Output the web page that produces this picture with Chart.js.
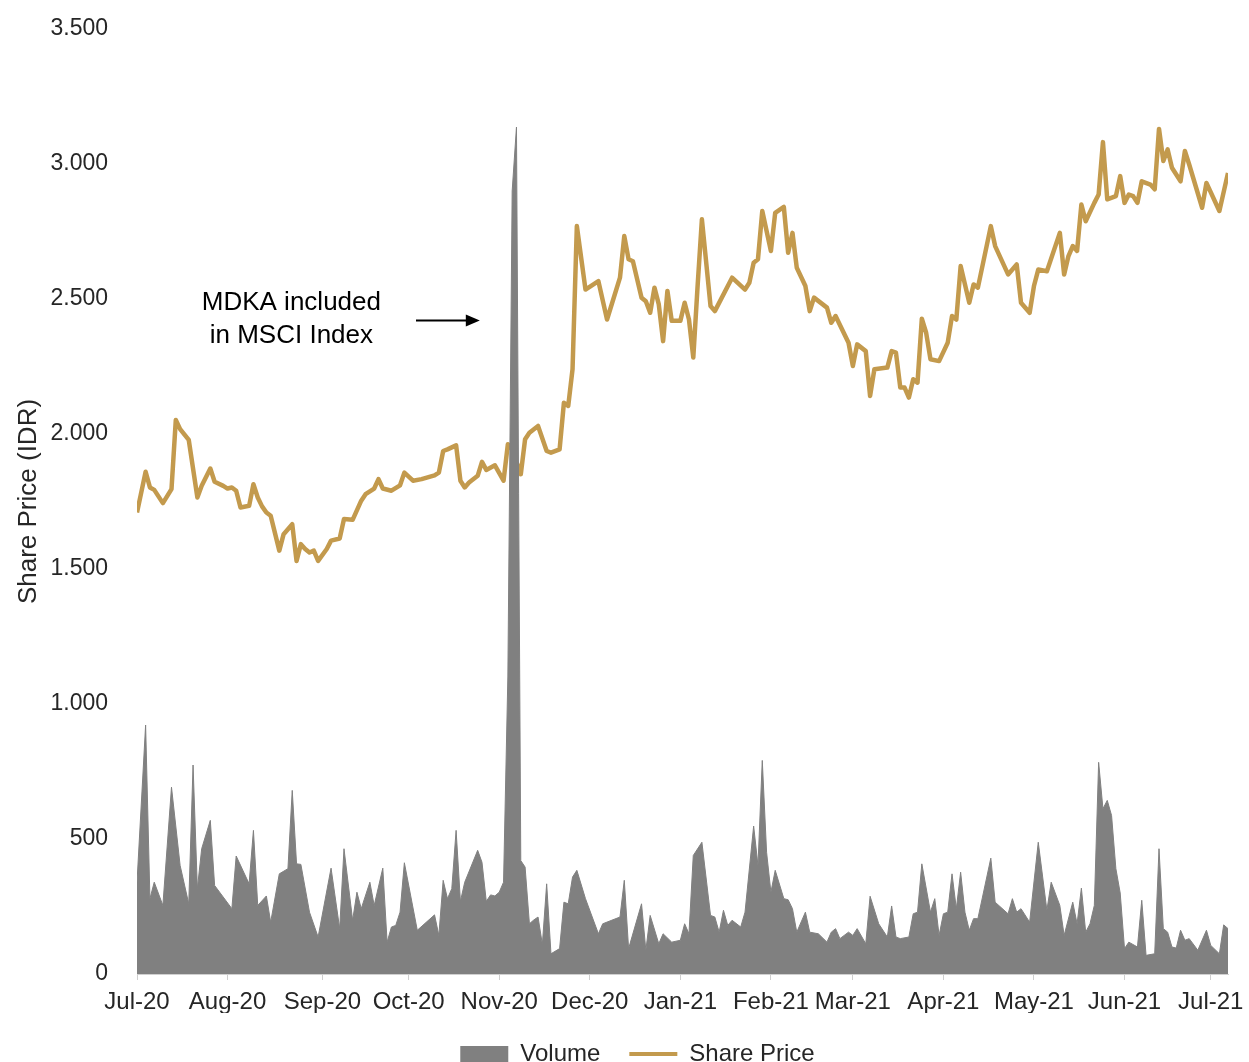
<!DOCTYPE html>
<html>
<head>
<meta charset="utf-8">
<script src="https://cdn.jsdelivr.net/npm/chart.js@4.4.1/dist/chart.umd.min.js"></script>
<style>
  html, body { margin: 0; padding: 0; background: #ffffff; overflow: hidden; }
  #wrap { position: relative; width: 1249px; height: 1076px; }
</style>
</head>
<body>
<div id="wrap"><canvas id="c"></canvas></div>
<script>
// ---- Tick labels (month starts, trading-day index) ----
const monthLabels = ['Jul-20','Aug-20','Sep-20','Oct-20','Nov-20','Dec-20','Jan-21','Feb-21','Mar-21','Apr-21','May-21','Jun-21','Jul-21'];
const monthStartDay = [0,21,43,63,84,105,126,147,166,187,208,229,249];
const lastDay = 253;

// ---- Share price (IDR), trading-day index -> price ----
const priceDay = [0,2,3,4,6,8,9,10,12,14,15,17,18,20,21,22,23,24,26,27,28,29,30,31,33,34,36,37,38,39,40,41,42,44,45,47,48,50,52,53,55,56,57,59,61,62,64,66,69,70,71,72,74,75,76,77,79,80,81,83,85,86,87,89,90,91,93,95,96,98,99,100,101,102,104,107,109,112,113,114,115,117,118,119,120,121,122,123,124,126,127,128,129,130,131,133,134,138,141,142,143,144,145,147,148,150,151,152,153,155,156,157,160,161,162,165,166,167,169,170,171,174,175,176,177,178,179,180,181,182,183,184,186,188,189,190,191,193,194,195,198,199,202,204,205,207,208,209,211,214,215,216,217,218,219,220,222,223,224,225,227,228,229,230,231,232,233,235,236,237,238,239,240,242,243,244,247,248,251,253];
const price = [1709,1860,1802,1793,1744,1796,2052,2018,1978,1765,1808,1872,1823,1808,1798,1802,1790,1728,1734,1814,1765,1732,1709,1697,1568,1629,1666,1530,1592,1574,1561,1568,1530,1574,1605,1613,1685,1682,1753,1777,1798,1833,1798,1790,1810,1857,1827,1833,1847,1857,1937,1943,1958,1827,1802,1820,1845,1897,1867,1884,1827,1962,1943,1851,1981,2005,2030,1937,1931,1943,2116,2104,2240,2770,2535,2566,2424,2579,2733,2647,2640,2505,2492,2449,2542,2480,2344,2530,2419,2419,2486,2424,2283,2548,2795,2474,2455,2579,2535,2560,2634,2647,2826,2678,2819,2841,2671,2745,2616,2548,2455,2505,2468,2412,2437,2338,2252,2332,2307,2141,2240,2246,2307,2301,2172,2172,2135,2203,2190,2427,2375,2277,2270,2338,2437,2424,2622,2486,2554,2542,2770,2696,2591,2628,2486,2449,2548,2609,2603,2745,2591,2659,2696,2678,2850,2788,2856,2887,3081,2869,2881,2955,2856,2887,2881,2856,2936,2924,2906,3130,3011,3054,2986,2936,3048,2998,2838,2930,2826,2967];

// ---- Volume, trading-day index -> volume ----
const volumeDay = [0,2,3,4,6,8,10,12,13,14,15,17,18,22,23,26,27,28,30,31,33,35,36,37,38,40,42,45,47,48,50,51,52,54,55,57,58,59,60,61,62,65,69,70,71,72,73,74,75,76,79,80,81,82,83,84,85,86,87,88,89,90,91,92,93,94,95,96,98,99,100,101,102,104,107,108,112,113,114,117,118,119,121,122,124,126,127,128,129,131,133,134,135,136,137,138,140,141,143,144,145,146,147,148,150,151,152,153,155,156,158,160,161,162,163,165,166,167,169,170,172,174,175,176,177,179,180,181,182,184,185,186,187,188,189,190,191,192,193,194,195,198,199,202,203,204,205,207,209,211,212,214,215,217,218,219,220,221,222,223,224,225,226,227,228,229,230,232,233,234,236,237,238,239,240,241,242,243,244,246,248,249,251,252,253];
const volume = [340,922,279,340,254,692,402,260,774,316,464,569,328,242,437,334,532,254,289,192,371,390,680,408,406,229,137,392,168,464,199,303,242,340,254,392,118,174,180,229,412,162,219,143,347,279,316,532,269,340,458,414,269,293,289,303,340,1100,2900,3137,420,396,186,200,211,110,334,75,94,266,260,359,384,279,149,186,211,347,94,260,88,217,112,149,118,125,186,149,439,488,217,211,155,236,180,199,174,229,548,402,791,451,303,384,279,275,242,155,229,155,149,118,155,168,131,155,143,168,112,288,186,137,252,137,131,137,223,229,408,229,279,143,223,229,371,242,377,229,162,205,205,429,266,223,279,229,242,192,488,236,340,254,143,266,186,318,155,186,254,784,612,643,587,390,300,94,118,100,273,69,75,464,168,155,100,96,162,125,131,88,162,106,75,182,168];

const GOLD = '#C39A4D';
const GREY = '#808080';
const TEXT = '#262626';
const FONT = "'Liberation Sans', Arial, Helvetica, sans-serif";

const toXY = (xs, ys) => xs.map((d, i) => ({ x: d, y: ys[i] }));

const fmt = v => String(v).replace(/\B(?=(\d{3})+(?!\d))/g, '.');

const annotationPlugin = {
  id: 'mdkaNote',
  afterDatasetsDraw(chart) {
    const { ctx, scales: { x, y } } = chart;
    ctx.save();
    ctx.fillStyle = '#000';
    ctx.font = '26px ' + FONT;
    ctx.textAlign = 'center';
    ctx.textBaseline = 'middle';
    const tx = x.getPixelForValue(35.8);
    ctx.fillText('MDKA included', tx, y.getPixelForValue(2485));
    ctx.fillText('in MSCI Index', tx, y.getPixelForValue(2362));
    const ay = y.getPixelForValue(2420);
    const ax0 = x.getPixelForValue(64.7);
    const ax1 = x.getPixelForValue(79.5);
    ctx.strokeStyle = '#000';
    ctx.lineWidth = 2;
    ctx.beginPath();
    ctx.moveTo(ax0, ay);
    ctx.lineTo(ax1 - 12, ay);
    ctx.stroke();
    ctx.beginPath();
    ctx.moveTo(ax1, ay);
    ctx.lineTo(ax1 - 14, ay - 6);
    ctx.lineTo(ax1 - 14, ay + 6);
    ctx.closePath();
    ctx.fill();
    ctx.restore();
  }
};

new Chart(document.getElementById('c'), {
  type: 'line',
  data: {
    datasets: [
      {
        label: 'Volume',
        data: toXY(volumeDay, volume),
        borderColor: GREY,
        backgroundColor: GREY,
        borderWidth: 1,
        pointRadius: 0,
        fill: 'origin',
        tension: 0,
        order: 1
      },
      {
        label: 'Share Price',
        data: toXY(priceDay, price),
        borderColor: GOLD,
        backgroundColor: GOLD,
        borderWidth: 4.5,
        pointRadius: 0,
        fill: false,
        tension: 0,
        borderJoinStyle: 'round',
        order: 2
      }
    ]
  },
  options: {
    responsive: true,
    maintainAspectRatio: false,
    animation: false,
    layout: { padding: { left: 47, right: 21, top: 29, bottom: 0 } },
    plugins: {
      tooltip: { enabled: false },
      legend: {
        position: 'bottom',
        labels: {
          font: { family: FONT, size: 24 },
          color: TEXT,
          usePointStyle: true,
          pointStyleWidth: 48,
          boxHeight: 16,
          padding: 29,
          generateLabels(chart) {
            return chart.data.datasets.map((ds, i) => ({
              text: ds.label,
              datasetIndex: i,
              fillStyle: ds.label === 'Volume' ? GREY : GOLD,
              strokeStyle: ds.label === 'Volume' ? GREY : GOLD,
              lineWidth: ds.label === 'Volume' ? 0 : 4,
              pointStyle: ds.label === 'Volume' ? 'rect' : 'line',
              fontColor: TEXT,
              hidden: false
            }));
          }
        }
      }
    },
    scales: {
      x: {
        type: 'linear',
        min: 0,
        max: lastDay,
        grid: { display: true, drawOnChartArea: false, drawTicks: true, tickLength: 6, color: '#cfcfcf' },
        border: { display: true, color: '#d0d0d0', width: 1 },
        afterBuildTicks(axis) {
          axis.ticks = monthStartDay.map(v => ({ value: v }));
        },
        afterFit(scale) {
          scale.height = 39;
          scale.paddingLeft = 0;
          scale.paddingRight = 0;
        },
        ticks: {
          autoSkip: false,
          maxRotation: 0,
          minRotation: 0,
          padding: 8,
          color: TEXT,
          font: { family: FONT, size: 24 },
          callback(value) {
            const i = monthStartDay.indexOf(value);
            return i >= 0 ? monthLabels[i] : '';
          }
        }
      },
      y: {
        type: 'linear',
        min: 0,
        max: 3500,
        grid: { display: false },
        border: { display: false },
        afterFit(scale) {
          scale.width = 90;
          scale.paddingTop = 0;
          scale.paddingBottom = 0;
        },
        title: {
          display: true,
          text: 'Share Price (IDR)',
          color: TEXT,
          font: { family: FONT, size: 26 },
          padding: { top: -34, bottom: 0 }
        },
        ticks: {
          stepSize: 500,
          padding: 21,
          color: TEXT,
          font: { family: FONT, size: 23 },
          callback: v => fmt(v)
        }
      }
    }
  },
  plugins: [annotationPlugin]
});
</script>
</body>
</html>
